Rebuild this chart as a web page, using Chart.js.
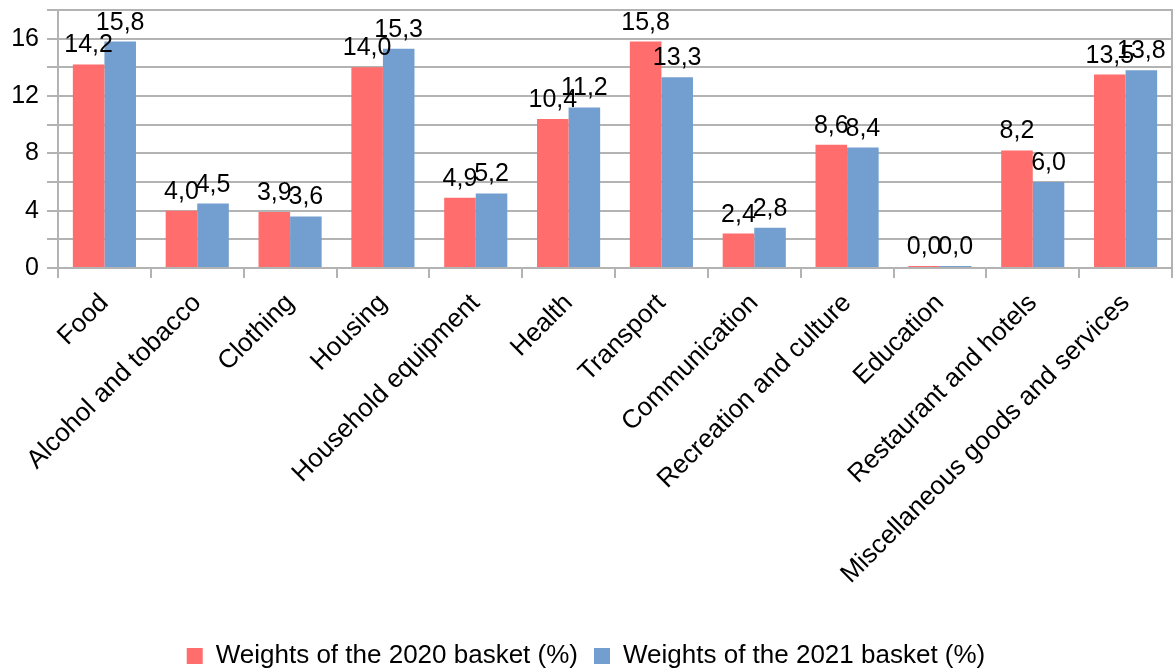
<!DOCTYPE html>
<html>
<head>
<meta charset="utf-8">
<script src="https://cdn.jsdelivr.net/npm/chart.js@4.4.1/dist/chart.umd.min.js"></script>
<style>
  html, body { margin: 0; padding: 0; background: #ffffff; }
  #wrap { width: 1174px; height: 671px; }
</style>
</head>
<body>
<div id="wrap"><canvas id="chart"></canvas></div>
<script>
// Categories and series
const categories = [
  'Food', 'Alcohol and tobacco', 'Clothing', 'Housing', 'Household equipment',
  'Health', 'Transport', 'Communication', 'Recreation and culture',
  'Education', 'Restaurant and hotels', 'Miscellaneous goods and services'
];
const weights2020 = [14.2, 4.0, 3.9, 14.0, 4.9, 10.4, 15.8, 2.4, 8.6, 0.0, 8.2, 13.5];
const weights2021 = [15.8, 4.5, 3.6, 15.3, 5.2, 11.2, 13.3, 2.8, 8.4, 0.0, 6.0, 13.8];
const yLabelTicks = [0, 4, 8, 12, 16];

const fontFamily = '"Liberation Sans", Arial, sans-serif';
const gridColor = '#b3b3b3';

function fmt (v) {
  return v.toFixed(1).replace('.', ',');
}

// values above bars + right frame line
const valueLabels = {
  id: 'valueLabels',
  afterDatasetsDraw (chart) {
    const ctx = chart.ctx;
    const area = chart.chartArea;
    ctx.save();
    ctx.strokeStyle = gridColor;
    ctx.lineWidth = 2;
    ctx.beginPath();
    ctx.moveTo(Math.round(area.right), area.top - 1);
    ctx.lineTo(Math.round(area.right), area.bottom + 10);
    ctx.stroke();

    ctx.font = '25px ' + fontFamily;
    ctx.fillStyle = '#000000';
    ctx.textAlign = 'center';
    ctx.textBaseline = 'alphabetic';
    for (let d = 0; d < chart.data.datasets.length; d++) {
      const meta = chart.getDatasetMeta(d);
      const vals = chart.data.datasets[d].data;
      for (let i = 0; i < meta.data.length; i++) {
        const el = meta.data[i];
        ctx.fillText(fmt(vals[i]), el.x, el.y - 12);
      }
    }
    ctx.restore();
  }
};

new Chart(document.getElementById('chart'), {
  type: 'bar',
  data: {
    labels: categories,
    datasets: [
      {
        label: 'Weights of the 2020 basket (%)',
        data: weights2020,
        backgroundColor: '#ff6d6d',
        borderWidth: 0,
        minBarLength: 2,
        categoryPercentage: 0.68,
        barPercentage: 1.0
      },
      {
        label: 'Weights of the 2021 basket (%)',
        data: weights2021,
        backgroundColor: '#729fcf',
        borderWidth: 0,
        minBarLength: 2,
        categoryPercentage: 0.68,
        barPercentage: 1.0
      }
    ]
  },
  options: {
    responsive: true,
    maintainAspectRatio: false,
    animation: false,
    layout: {
      padding: { top: 10, right: 2, bottom: -8, left: 0 }
    },
    plugins: {
      legend: {
        position: 'bottom',
        labels: {
          color: '#000000',
          font: { family: fontFamily, size: 26 },
          boxWidth: 16,
          boxHeight: 16,
          padding: 16
        }
      },
      tooltip: { enabled: false }
    },
    scales: {
      x: {
        afterFit (scale) { scale.height = 359; },
        ticks: {
          color: '#000000',
          font: { family: fontFamily, size: 26 },
          minRotation: 45,
          maxRotation: 45,
          autoSkip: false,
          padding: 10
        },
        grid: {
          offset: true,
          drawOnChartArea: false,
          drawTicks: true,
          tickLength: 10,
          lineWidth: 2,
          color: gridColor
        },
        border: { color: gridColor, width: 2 }
      },
      y: {
        min: 0,
        max: 18,
        afterFit (scale) {
          scale.width = 58;
          scale.paddingTop = 0;
          scale.paddingBottom = 0;
        },
        ticks: {
          stepSize: 2,
          autoSkip: false,
          color: '#000000',
          font: { family: fontFamily, size: 25 },
          padding: 8,
          callback (v) {
            return yLabelTicks.indexOf(v) >= 0 ? String(v) : '';
          }
        },
        grid: {
          color: gridColor,
          lineWidth: 2,
          tickLength: 11
        },
        border: { color: gridColor, width: 2 }
      }
    }
  },
  plugins: [valueLabels]
});
</script>
</body>
</html>
